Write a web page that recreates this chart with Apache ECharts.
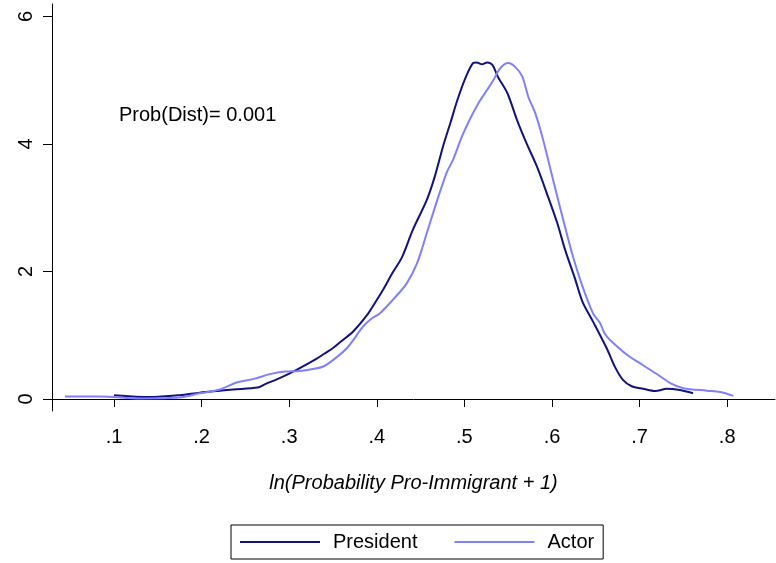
<!DOCTYPE html>
<html>
<head>
<meta charset="utf-8">
<script src="https://cdn.jsdelivr.net/npm/echarts@6/dist/echarts.min.js"></script>
<style>html,body{margin:0;padding:0;background:#fff;}#c{width:776px;height:563px;}</style>
</head>
<body>
<div id="c"></div>
<script>
const presidentX = [0.100,0.141,0.175,0.198,0.221,0.236,0.264,0.272,0.291,0.310,0.331,0.340,0.350,0.358,0.373,0.389,0.398,0.407,0.418,0.429,0.441,0.457,0.466,0.476,0.484,0.492,0.501,0.510,0.514,0.520,0.526,0.532,0.538,0.549,0.560,0.571,0.583,0.594,0.606,0.615,0.626,0.635,0.647,0.663,0.672,0.681,0.691,0.704,0.718,0.731,0.746,0.761];
const presidentY = [0.06,0.03,0.06,0.10,0.13,0.15,0.18,0.23,0.34,0.47,0.63,0.71,0.80,0.89,1.06,1.32,1.51,1.71,1.98,2.23,2.65,3.12,3.48,3.98,4.33,4.69,5.03,5.27,5.28,5.25,5.28,5.24,5.06,4.80,4.38,4.01,3.64,3.23,2.76,2.34,1.90,1.52,1.21,0.78,0.50,0.30,0.20,0.16,0.125,0.16,0.14,0.09];
const actorX = [0.044,0.084,0.130,0.172,0.198,0.221,0.240,0.261,0.278,0.295,0.312,0.327,0.339,0.350,0.366,0.384,0.392,0.404,0.418,0.434,0.446,0.457,0.469,0.480,0.487,0.497,0.506,0.516,0.526,0.533,0.541,0.550,0.558,0.566,0.573,0.581,0.590,0.601,0.613,0.624,0.635,0.647,0.655,0.660,0.666,0.686,0.704,0.721,0.735,0.750,0.777,0.792,0.807];
const actorY = [0.04,0.04,0.01,0.02,0.09,0.15,0.26,0.32,0.39,0.43,0.44,0.47,0.51,0.61,0.80,1.13,1.24,1.35,1.55,1.81,2.13,2.60,3.12,3.56,3.75,4.11,4.38,4.64,4.85,5.00,5.19,5.27,5.21,5.06,4.74,4.48,4.06,3.45,2.80,2.23,1.76,1.34,1.19,1.03,0.93,0.69,0.53,0.38,0.25,0.17,0.13,0.11,0.05];
const xTicks = [0.1,0.2,0.3,0.4,0.5,0.6,0.7,0.8];
const yTicks = [0,2,4,6];
const seriesNames = ['President','Actor'];
const xTitle = 'ln(Probability Pro-Immigrant + 1)';
const noteText = 'Prob(Dist)= 0.001';

const FONT = '"Liberation Sans", Arial, Helvetica, sans-serif';
const chart = echarts.init(document.getElementById('c'), null, {renderer:'canvas'});
const pair = (xs, ys) => xs.map((x,i)=>[x, ys[i]]);
chart.setOption({
  animation:false,
  backgroundColor:'#fff',
  grid:{left:52,right:1,top:4,bottom:152,containLabel:false},
  xAxis:{type:'value',min:0.0292,max:0.8546,
    axisLine:{show:true,lineStyle:{color:'#000',width:1}},
    axisTick:{show:true,length:8,customValues:xTicks,lineStyle:{color:'#000'}},
    axisLabel:{customValues:xTicks,margin:16,fontSize:20,color:'#000',fontFamily:FONT,
      formatter:v=>v.toFixed(1).replace(/^0\./,'.')},
    splitLine:{show:false},
    name:xTitle,nameLocation:'middle',nameGap:62,
    nameTextStyle:{fontSize:20,fontStyle:'italic',color:'#000',fontFamily:FONT}
  },
  yAxis:{type:'value',min:-0.188,max:6.196,
    axisLine:{show:true,lineStyle:{color:'#000',width:1}},
    axisTick:{show:true,length:9,customValues:yTicks,lineStyle:{color:'#000'}},
    axisLabel:{customValues:yTicks,rotate:90,margin:16,fontSize:20,color:'#000',fontFamily:FONT},
    splitLine:{show:false}
  },
  legend:{left:231,top:525,orient:'horizontal',
    padding:[7,9,7,9],borderColor:'#000',borderWidth:1,
    itemWidth:80,itemHeight:2,itemGap:37,icon:'rect',
    textStyle:{fontSize:20,color:'#000',fontFamily:FONT,lineHeight:20,padding:[0,0,0,8]},
    data:seriesNames
  },
  graphic:[{type:'text',left:119,top:105,style:{text:noteText,font:'20px '+FONT,fill:'#000'}}],
  series:[
    {name:seriesNames[0],type:'line',data:pair(presidentX,presidentY),showSymbol:false,smooth:0.3,
      lineStyle:{color:'#12127e',width:2},itemStyle:{color:'#12127e'}},
    {name:seriesNames[1],type:'line',data:pair(actorX,actorY),showSymbol:false,smooth:0.3,
      lineStyle:{color:'#8080ff',width:2},itemStyle:{color:'#8080ff'}}
  ]
});
</script>
</body>
</html>
